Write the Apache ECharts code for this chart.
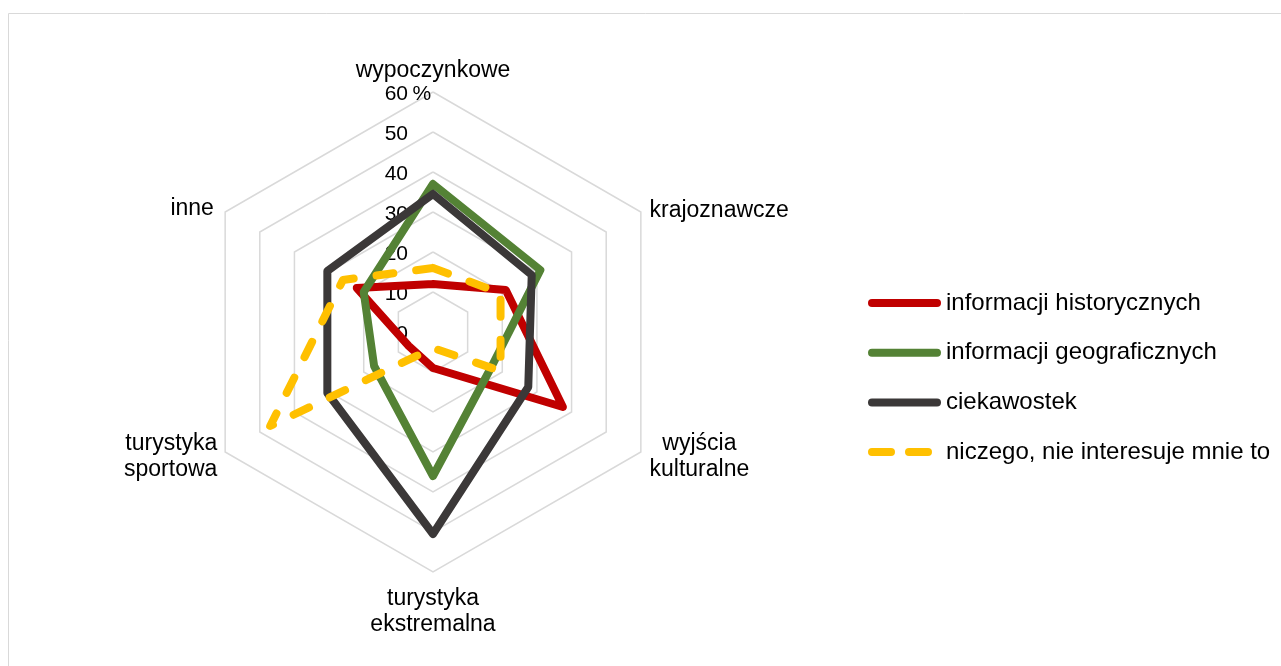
<!DOCTYPE html>
<html><head><meta charset="utf-8">
<script src="https://cdn.jsdelivr.net/npm/echarts@6/dist/echarts.min.js"></script>
<style>html,body{margin:0;padding:0;background:#fff;overflow:hidden}#c{width:1281px;height:666px}</style>
</head><body><div id="c"></div>
<script>
// indicator order (counter-clockwise from top)
const categories = ['wypoczynkowe', 'inne', 'turystyka\nsportowa', 'turystyka\nekstremalna', 'wyjścia\nkulturalne', 'krajoznawcze'];
const seriesNames = ['informacji historycznych', 'informacji geograficznych', 'ciekawostek', 'niczego, nie interesuje mnie to'];
const historyczne = [12, 22, 7, 9, 37.5, 21];
const geograficzne = [37, 20, 17, 36, 17, 31];
const ciekawostki = [34.5, 30.5, 30.5, 50.5, 27.5, 28.5];
const niczego = [16, 26, 47, 4, 19.5, 19.5];
const tickValues = [0, 10, 20, 30, 40, 50, 60];
const tickLabels = ['0', '10', '20', '30', '40', '50', '60'];
const tickUnit = ' %';
const colors = ['#c00000', '#548235', '#3b3838', '#ffc000'];

const values = [historyczne, geograficzne, ciekawostki, niczego];
const nameGaps = [4, 13, 9, 14, 10, 10];
const solidIcon = 'path://M4,0H69A4,4,0,0,1,69,8H4A4,4,0,0,1,4,0Z';
const dashIcon = 'path://M4,0H23A4,4,0,0,1,23,8H4A4,4,0,0,1,4,0ZM41,0H60A4,4,0,0,1,60,8H41A4,4,0,0,1,41,0ZM73,4';

const FONT = 'Liberation Sans, Arial, sans-serif';
const chart = echarts.init(document.getElementById('c'), null, {renderer: 'canvas'});
chart.setOption({
  animation: false,
  color: colors,
  graphic: [{type: 'rect', shape: {x: 8.5, y: 13.5, width: 1300, height: 700}, style: {fill: 'none', stroke: '#d9d9d9', lineWidth: 1}, silent: true}],
  legend: {
    orient: 'vertical', left: 868, top: 291, itemWidth: 73, itemHeight: 8, itemGap: 25.7, padding: 0,
    textStyle: {fontSize: 24, lineHeight: 22, color: '#000', fontFamily: FONT},
    data: seriesNames.map((n, i) => ({name: n, icon: i === 3 ? dashIcon : solidIcon}))
  },
  radar: {
    center: [433, 332], radius: 240, startAngle: 90, shape: 'polygon', splitNumber: 6,
    axisName: {
      color: '#000', fontSize: 23, fontFamily: FONT, lineHeight: 26,
      formatter: function (name) {
        const i = categories.indexOf(name);
        if (i === 1 || i === 5) return '{s|' + name + '}';
        if (i === 4) return name.split('\n').map(l => '{c|' + l + '}').join('\n');
        return name;
      },
      rich: {
        s: {color: '#000', fontSize: 23, fontFamily: FONT, lineHeight: 26, padding: [7, 0, 0, 0]},
        c: {color: '#000', fontSize: 23, fontFamily: FONT, lineHeight: 26, align: 'center'}
      }
    },
    nameGap: 10,
    axisLine: {show: false}, axisTick: {show: false},
    splitArea: {show: false},
    splitLine: {lineStyle: {color: '#d9d9d9', width: 1.5}},
    axisLabel: {show: false},
    indicator: categories.map((c, i) => {
      const o = {name: c, min: 0, max: 60, nameGap: nameGaps[i]};
      if (i === 0) {
        o.axisLabel = {
          show: true, margin: 3, fontSize: 21, color: '#000', fontFamily: FONT, padding: [4, 0, 0, 0],
          formatter: function (v) {
            const k = tickValues.indexOf(v);
            const t = k >= 0 ? tickLabels[k] : String(v);
            return '{n|' + t + '}{u|' + (v === 60 ? tickUnit : '\u00a0') + '}';
          },
          rich: {n: {fontSize: 21, fontFamily: FONT, color: '#000'}, u: {fontSize: 21, fontFamily: FONT, color: '#000', width: 22, align: 'left'}}
        };
      }
      return o;
    })
  },
  series: [{
    type: 'radar', symbol: 'none', emphasis: {disabled: true},
    data: values.map((arr, i) => ({
      name: seriesNames[i], value: arr,
      itemStyle: {color: colors[i]},
      lineStyle: {color: colors[i], width: 8, cap: 'round', join: 'round', type: i === 3 ? [17, 23] : 'solid'}
    }))
  }]
});
</script></body></html>
